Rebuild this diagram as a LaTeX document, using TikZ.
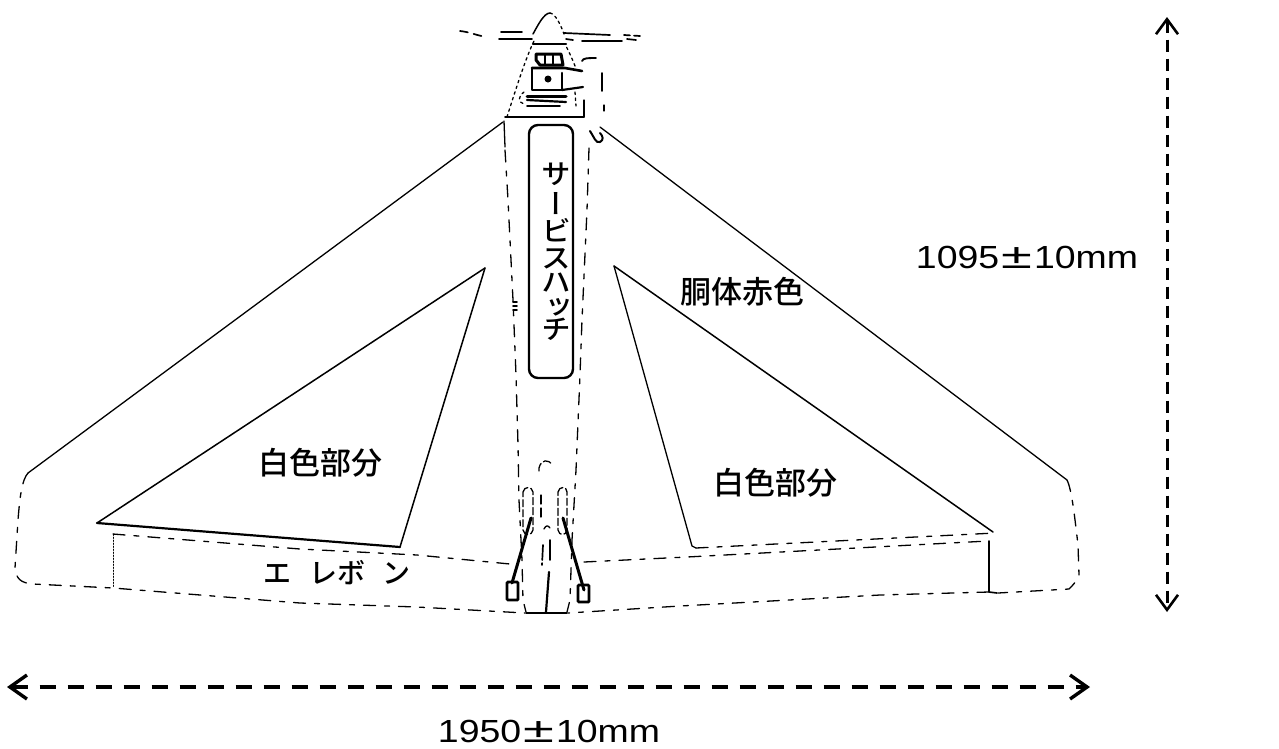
\documentclass[tikz,border=0pt]{standalone}
\usepackage{fontspec}
\usetikzlibrary{arrows.meta}
\newfontfamily\cjk{Noto Sans CJK JP Medium}
\newfontfamily\cjkv{Noto Sans CJK JP Medium}[RawFeature=+vert,FakeStretch=1.06]
\newfontfamily\dimfont{Liberation Sans}[FakeStretch=1.17]
\newcommand{\plusminus}{\hspace{2pt}\scalebox{1.5}[1.1]{±}\hspace{2pt}}
\tikzset{
  outline/.style={black,line width=1.3pt,line cap=round,line join=round},
  dashout/.style={outline,line width=1.3pt,dash pattern=on 12pt off 9pt on 5pt off 9pt},
  dashfine/.style={outline,line width=1.3pt,dash pattern=on 2.5pt off 3.5pt},
  thick line/.style={black,line width=2.2pt,line cap=round,line join=round},
  heavy/.style={black,line width=3pt,line cap=round,line join=round},
  label/.style={font=\cjk\fontsize{31}{31}\selectfont,inner sep=0pt,black},
  dimlabel/.style={font=\dimfont\fontsize{32}{32}\selectfont,inner sep=0pt,black},
  dimv/.style={black,line width=3pt,dash pattern=on 12pt off 7pt,{Straight Barb[length=15pt,width=22pt,line width=2.6pt]}-{Straight Barb[length=15pt,width=22pt,line width=2.6pt]}},
  dimh/.style={black,line width=4pt,dash pattern=on 16pt off 12pt,{Straight Barb[length=17pt,width=24pt,line width=3.4pt]}-{Straight Barb[length=17pt,width=24pt,line width=3.4pt]}},
}
\begin{document}
\begin{tikzpicture}[x=1pt,y=-1pt]
\useasboundingbox[fill=white] (0,0) rectangle (1279,748);

% nose cone
\draw[dashfine] (507,117) .. controls (517,85) and (527,55) .. (534,41);
\draw[dashfine] (575,66) .. controls (572,58) and (568,50) .. (565,44);
\draw[outline,line width=1.5pt] (533,34) .. controls (538,25) and (544,13) .. (550,13);
\draw[dashfine] (550,13) .. controls (556,14) and (561,26) .. (564,34);
\draw[thick line] (533,44) -- (566,44);
\draw[thick line,line width=1.8pt] (505,117) -- (584,117);
\draw[outline] (584,117) -- (584,100);

% rotor
\draw[outline,line width=1.7pt,dash pattern=on 8pt off 6pt] (460,31) .. controls (470,32) and (478,36) .. (487,37);
\draw[thick line,line width=1.7pt] (501,32) -- (522,32);
\draw[thick line,line width=1.7pt] (499,39) -- (532,39);
\draw[thick line,line width=1.7pt] (564,33) -- (610,35);
\draw[thick line,line width=1.7pt] (566,39) -- (573,40);
\draw[thick line,line width=1.7pt] (582,41) -- (622,41);
\draw[outline,line width=1.7pt,dash pattern=on 6pt off 4pt] (624,35) -- (640,36) -- (638,39);
\draw[outline,line width=1.7pt] (627,39) -- (636,40);

% servo detail
\draw[thick line,line width=2.6pt] (532,68) -- (532,90) -- (562,90) -- (562,73);
\draw[thick line,line width=2.6pt] (532,68) -- (565,68) -- (582,71);
\draw[thick line] (562,90) -- (583,87);
\draw[heavy] (536,60) -- (536,54) -- (561,54) -- (563,65) -- (540,65) -- cycle;
\draw[thick line,line width=1.8pt] (545,55) -- (545,64) (553,55) -- (553,64);
\draw[heavy] (527,96) -- (566,96);
\draw[thick line] (527,100) -- (566,102);
\draw[thick line,line width=1.8pt] (527,106) -- (560,106);
\draw[dashfine] (524,92) .. controls (518,95) and (518,103) .. (524,104);
\draw[dashfine] (575,92) -- (576,106);
\fill (548,79) circle (3.5pt);
\draw[thick line,line width=1.9pt] (582,61) .. controls (583,58) and (588,58) .. (596,58);
\draw[outline,line width=1.7pt] (602,73) -- (602,91);
\draw[outline] (604,105) -- (604,111);

% fuselage sides
\draw[outline] (504,121) -- (505,147);
\draw[dashout] (505,150) -- (508,200) -- (513,300) -- (516,375) -- (518,445) -- (519,500) -- (522,560) -- (523,600) -- (526,612);
\draw[dashout] (589,148) -- (587,210) -- (582,320) -- (580,375) -- (576,470) -- (572,540) -- (570,600) -- (567,612);
\draw[outline,line width=1.6pt] (526,613) -- (567,613);
\draw[thick line,line width=1.6pt] (513,302) -- (517,302) (513,306) -- (517,306) (513,310) -- (517,310);

% tail hook at wing root
\draw[thick line,line width=2pt] (590,131) .. controls (594,137) and (596,144) .. (600,142) .. controls (604,140) and (603,136) .. (600,133);

% wings
\draw[outline] (503,122) -- (28,473);
\draw[dashout] (28,473) .. controls (22,480) and (20,495) .. (18,520) -- (15,568) .. controls (16,578) and (20,583) .. (33,584) -- (113,588) -- (300,603) -- (417,607) -- (525,613);
\draw[outline] (600,127) -- (1067,480);
\draw[dashout] (1067,480) .. controls (1072,490) and (1075,520) .. (1078,545) -- (1079,575) .. controls (1077,581) and (1073,585) .. (1069,589) -- (998,593);
\draw[dashout] (989,592) -- (880,595) -- (680,606) -- (568,613);

% elevon
\draw[dashout] (113,534) -- (300,549) -- (417,555) -- (510,564);
\draw[dashfine,line width=.7pt,dash pattern=on 1.5pt off 1.5pt] (113,534) -- (113,587);
\draw[dashout] (584,562) -- (687,557) -- (988,541);
\draw[outline,line width=1.6pt] (989,541) -- (989,592) -- (997,593);

% white areas
\draw[outline,line width=1.5pt] (485,268) -- (97,523);
\draw[thick line] (97,523) -- (400,547);
\draw[outline,line width=1.5pt] (400,547) -- (485,268);
\draw[outline,line width=1.5pt] (614,266) -- (993,532);
\draw[outline] (614,266) -- (692,546) -- (696,548);
\draw[dashout] (696,548) -- (995,533);

% hatch
\draw[black,line width=2.4pt,rounded corners=9pt] (529,125) rectangle (573,378);
\node[font=\cjkv\fontsize{28}{25}\selectfont,align=center,inner sep=0pt,execute at begin node={\lineskiplimit=-60pt}] (hatchtext) at (556,252)
 {サ\\[5pt]ー\\[2pt]ビ\\[2pt]ス\\[-1pt]ハ\\ッ\\[-3pt]チ};

% tail details
\draw[outline,dash pattern=on 7pt off 3pt] (523,492) .. controls (524,486) and (532,486) .. (533,492) -- (533,530) .. controls (532,536) and (524,536) .. (523,530) -- cycle;
\draw[outline,dash pattern=on 7pt off 3pt] (558,492) .. controls (559,486) and (567,486) .. (567,492) -- (567,530) .. controls (566,536) and (559,536) .. (558,530) -- cycle;
\draw[outline,dash pattern=on 8pt off 3pt] (539,471) -- (539,468) .. controls (541,459) and (549,459) .. (552,465);
\draw[outline,dash pattern=on 9pt off 4pt] (541,495) -- (541,520);
\draw[outline] (544,529) .. controls (546,525) and (548,525) .. (550,528);
\draw[outline,line width=1.7pt,dash pattern=on 15pt off 3pt] (543,545) -- (542,565);
\draw[outline,line width=1.7pt] (550,540) -- (550,560);
\draw[thick line] (549,572) -- (546,612);
\draw[heavy] (531,518) -- (512,583);
\draw[heavy] (563,518) -- (584,590);
\draw[black,line width=2.8pt,rounded corners=1pt] (507,582) rectangle (518,600);
\draw[black,line width=2.8pt,rounded corners=1pt] (578,585) rectangle (589,602);

% labels
\node[label] (wl) at (320,463) {白色部分};
\node[label] (wr) at (775,483) {白色部分};
\node[label] (red) at (742,292) {胴体赤色};
\node[label,font=\cjk\fontsize{28}{28}\selectfont] (elev) at (337,573) {エ\hspace{19pt}レボ\hspace{17pt}ン};

% dimensions
\coordinate (vt) at (1167,17);
\coordinate (vb) at (1167,612);
\coordinate (hl) at (7,687);
\coordinate (hr) at (1090,687);
\draw[dimv] (vt) -- (vb);
\draw[dimh] (hl) -- (hr);
\node[dimlabel] (dv) at (1027,257) {1095\plusminus 10mm};
\node[dimlabel] (dh) at (549,731) {1950\plusminus 10mm};
\end{tikzpicture}
\end{document}
